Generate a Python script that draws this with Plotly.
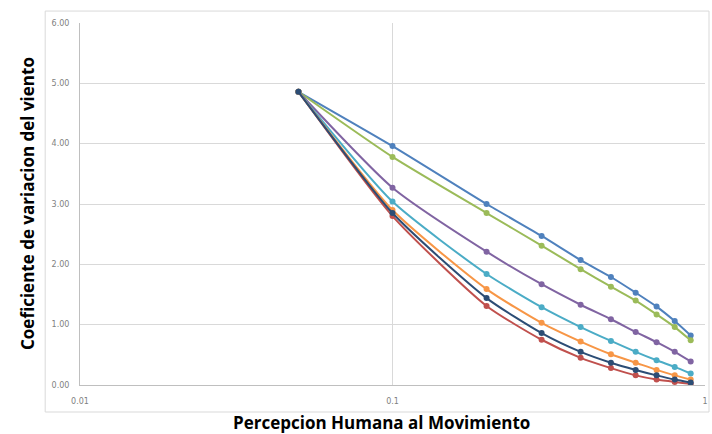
import plotly.graph_objects as go

x_vals = [0.05, 0.1, 0.2, 0.3, 0.4, 0.5, 0.6, 0.7, 0.8, 0.9]

serie_azul = [4.86, 3.96, 3.00, 2.47, 2.07, 1.79, 1.53, 1.30, 1.06, 0.82]
serie_roja = [4.86, 2.80, 1.31, 0.75, 0.45, 0.28, 0.16, 0.09, 0.05, 0.02]
serie_verde = [4.86, 3.78, 2.85, 2.31, 1.92, 1.63, 1.40, 1.17, 0.96, 0.74]
serie_morada = [4.86, 3.27, 2.21, 1.67, 1.33, 1.09, 0.88, 0.71, 0.55, 0.39]
serie_cian = [4.86, 3.04, 1.84, 1.29, 0.96, 0.73, 0.55, 0.41, 0.30, 0.19]
serie_naranja = [4.86, 2.90, 1.59, 1.03, 0.72, 0.51, 0.37, 0.25, 0.16, 0.09]
serie_oscura = [4.86, 2.85, 1.44, 0.86, 0.55, 0.37, 0.25, 0.16, 0.09, 0.04]

series = [
    ("Serie 1", serie_azul, "#4F81BD"),
    ("Serie 2", serie_roja, "#C0504D"),
    ("Serie 3", serie_verde, "#9BBB59"),
    ("Serie 4", serie_morada, "#8064A2"),
    ("Serie 5", serie_cian, "#4BACC6"),
    ("Serie 6", serie_naranja, "#F79646"),
    ("Serie 7", serie_oscura, "#2C4D75"),
]

x_ticks = [0.01, 0.1, 1]
x_ticktext = ["0.01", "0.1", "1"]
y_ticks = [0, 1, 2, 3, 4, 5, 6]
y_ticktext = ["0.00", "1.00", "2.00", "3.00", "4.00", "5.00", "6.00"]

fig = go.Figure()
for name, ys, color in series:
    fig.add_trace(go.Scatter(
        x=x_vals, y=ys, name=name, mode="lines+markers",
        line=dict(color=color, width=2, shape="spline", smoothing=0.6),
        marker=dict(color=color, size=6, symbol="circle"),
    ))

tick_font = dict(family="DejaVu Sans", size=8, color="#7f7f7f")

fig.update_layout(
    width=712, height=434,
    margin=dict(l=80, r=4, t=23, b=49),
    paper_bgcolor="white", plot_bgcolor="white",
    showlegend=False,
    xaxis=dict(
        type="log", range=[-2, 0],
        tickvals=x_ticks, ticktext=x_ticktext,
        showgrid=True, gridcolor="#d9d9d9", gridwidth=1,
        showline=True, linecolor="#bfbfbf", linewidth=1,
        ticks="", tickfont=tick_font, ticklabelstandoff=8,
        zeroline=False,
    ),
    yaxis=dict(
        range=[0, 6],
        tickvals=y_ticks, ticktext=y_ticktext,
        showgrid=True, gridcolor="#d9d9d9", gridwidth=1,
        showline=True, linecolor="#bfbfbf", linewidth=1,
        ticks="", tickfont=tick_font, ticklabelstandoff=8,
        zeroline=False,
    ),
    shapes=[dict(
        type="rect", xref="paper", yref="paper",
        x0=-0.0557, x1=1.0064, y0=-0.0746, y1=1.033,
        line=dict(color="#d9d9d9", width=1), layer="below",
    )],
    annotations=[
        dict(text="<b>Coeficiente de variacion del viento</b>", xref="paper", yref="paper",
             x=0, y=0.5, xshift=-53, textangle=-90, showarrow=False,
             xanchor="center", yanchor="middle",
             font=dict(family="Open Sans", size=17, color="black")),
        dict(text="<b>Percepcion Humana al Movimiento</b>", xref="paper", yref="paper",
             x=0.4825, y=0, yshift=-37, showarrow=False,
             xanchor="center", yanchor="middle",
             font=dict(family="Open Sans", size=17, color="black")),
    ],
)

fig.write_html("out.html")
